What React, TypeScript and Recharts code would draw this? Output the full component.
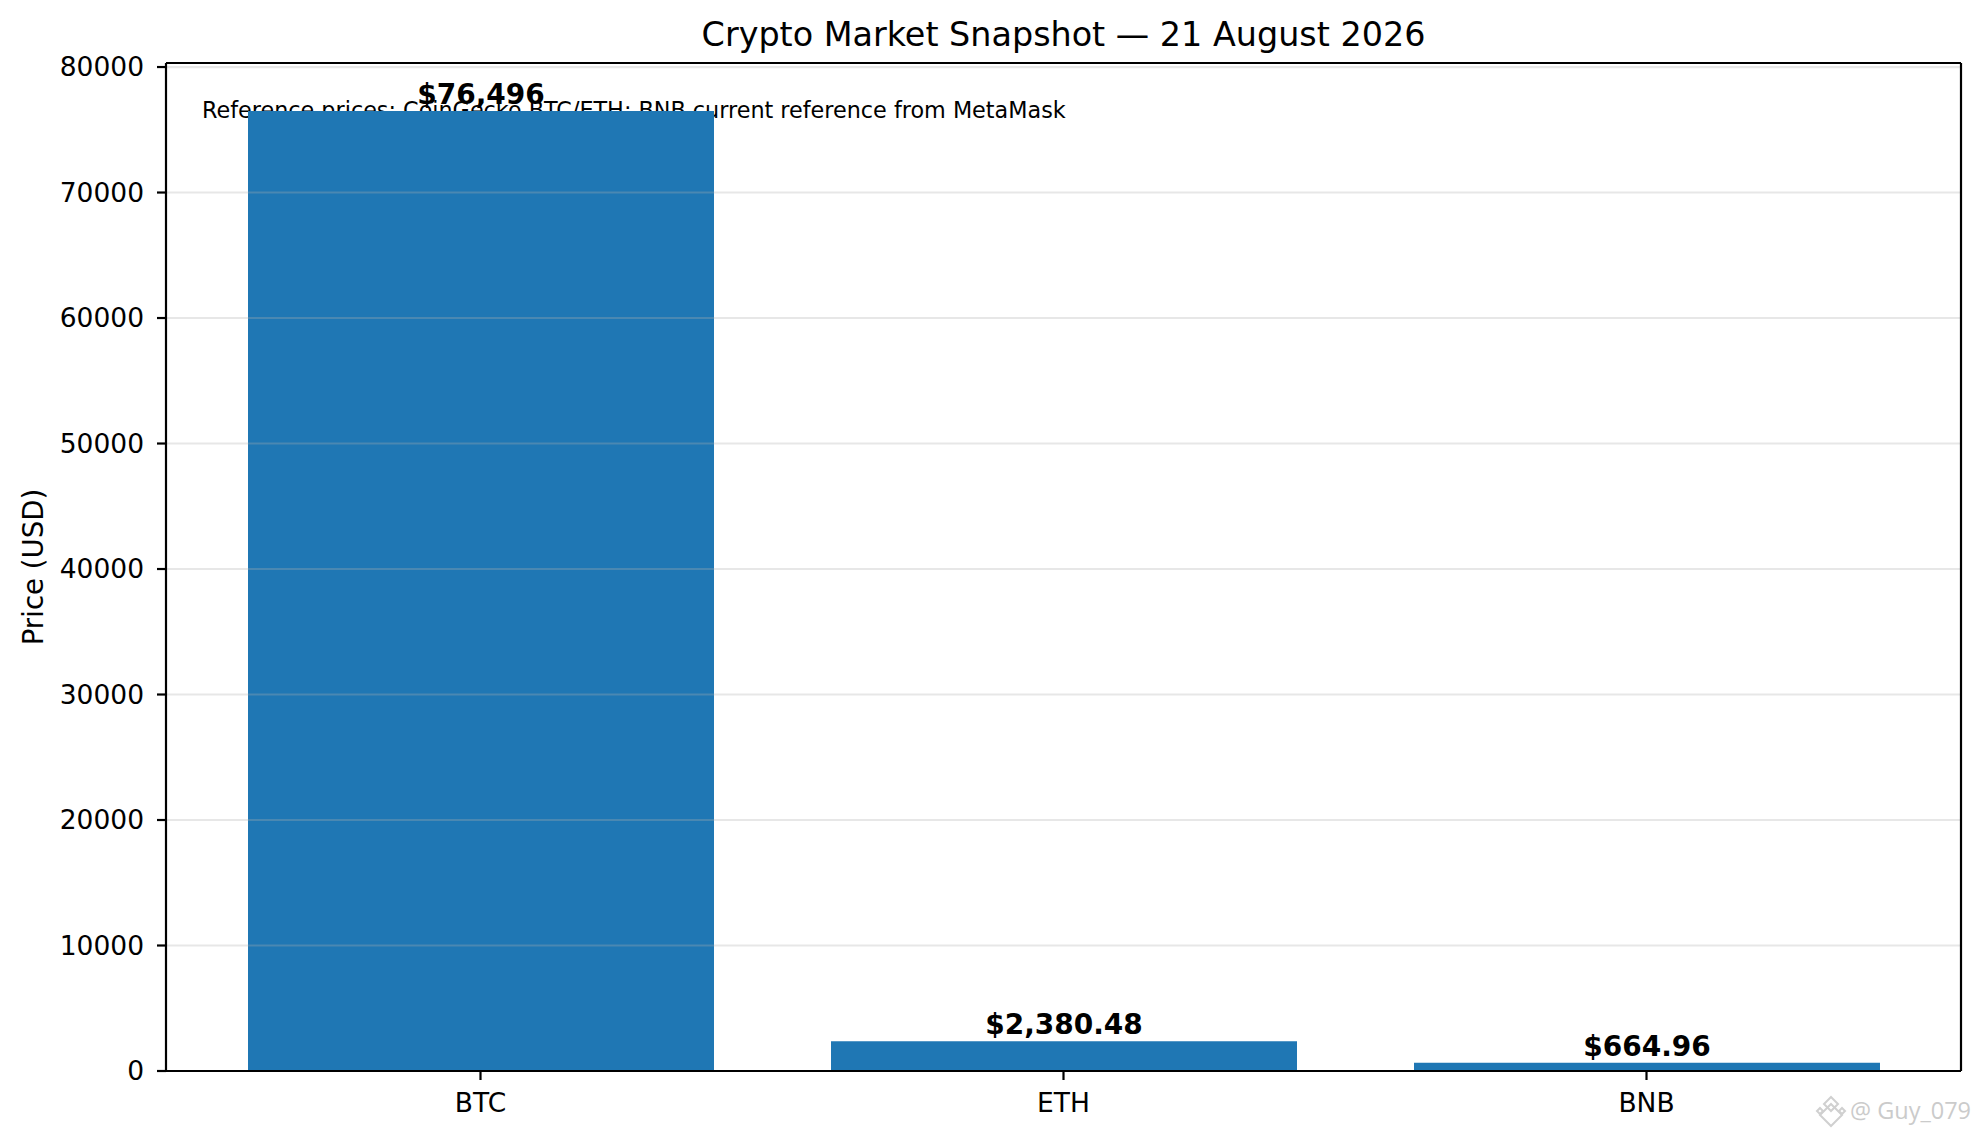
import React from 'react';
import {
  ComposedChart,
  Bar,
  XAxis,
  YAxis,
  ReferenceLine,
  LabelList,
  Customized,
} from 'recharts';

const categories = ['BTC', 'ETH', 'BNB'];
const prices = [76496, 2380.48, 664.96];
const priceLabels = ['$76,496', '$2,380.48', '$664.96'];
const yTicks = [0, 10000, 20000, 30000, 40000, 50000, 60000, 70000, 80000];
const yMax = 80321;

const data = categories.map((c, i) => ({ name: c, price: prices[i], label: priceLabels[i] }));

const FONT = '"DejaVu Sans", Verdana, sans-serif';

const Overlay = () => (
  <g>
    <text x={1063.5} y={46} textAnchor="middle" fontSize={33.4} fill="#000" fontFamily={FONT}>
      Crypto Market Snapshot — 21 August 2026
    </text>
    <text x={202} y={118} textAnchor="start" fontSize={22.3} fill="#000" fontFamily={FONT}>
      Reference prices: CoinGecko BTC/ETH; BNB current reference from MetaMask
    </text>
    <g fill="none" stroke="#d0d0d0" strokeWidth={2}>
      <path d="M1831 1097 L1838 1104 L1831 1111 L1824 1104 Z" />
      <path d="M1831 1104 L1842 1115 L1831 1126 L1820 1115 Z" />
      <path d="M1820 1108 L1823 1111 L1820 1114 L1817 1111 Z" />
      <path d="M1842 1108 L1845 1111 L1842 1114 L1839 1111 Z" />
    </g>
    <text x={1850} y={1119} fontSize={23.5} fill="#cbcbcb" fontFamily='"Open Sans", "Noto Sans", sans-serif'>
      @ Guy_079
    </text>
  </g>
);

const YLabel = (props: any) => {
  const vb = props.viewBox || {};
  const cy = (vb.y ?? 63) + (vb.height ?? 1008) / 2;
  return (
    <text
      x={43}
      y={cy}
      transform={`rotate(-90, 43, ${cy})`}
      textAnchor="middle"
      fontSize={27.6}
      fill="#000"
      fontFamily={FONT}
    >
      Price (USD)
    </text>
  );
};

export default function App() {
  return (
    <div style={{ position: 'absolute', left: 0, top: 0, width: 1980, height: 1138, background: '#fff' }}>
      <ComposedChart
        width={1980}
        height={1138}
        data={data}
        margin={{ top: 63, right: 19, bottom: 7, left: 46 }}
        style={{ fontFamily: FONT }}
      >
        <XAxis
          dataKey="name"
          type="category"
          padding={{ left: 23, right: 23 }}
          tickSize={9}
          tickMargin={13}
          height={60}
          axisLine={{ stroke: '#000', strokeWidth: 2.2 }}
          tickLine={{ stroke: '#000', strokeWidth: 2.2 }}
          tick={{ fontSize: 26.5, fill: '#000', fontFamily: FONT }}
        />
        <XAxis
          xAxisId="frame"
          type="number"
          domain={[0, 2]}
          allowDataOverflow
          hide
        />
        <YAxis
          type="number"
          domain={[0, yMax]}
          ticks={yTicks}
          interval={0}
          width={120}
          tickSize={9}
          tickMargin={13}
          allowDataOverflow
          axisLine={{ stroke: '#000', strokeWidth: 2.2 }}
          tickLine={{ stroke: '#000', strokeWidth: 2.2 }}
          tick={{ fontSize: 26.5, fill: '#000', fontFamily: FONT }}
          label={<YLabel />}
        />
        <Bar dataKey="price" fill="#1f77b4" barSize={466} isAnimationActive={false}>
          <LabelList
            dataKey="label"
            position="top"
            offset={7}
            fill="#000"
            fontSize={28}
            fontWeight="bold"
            fontFamily={FONT}
          />
        </Bar>
        {yTicks.map((t) => (
          <ReferenceLine
            key={t}
            y={t}
            stroke="#b0b0b0"
            strokeOpacity={0.3}
            strokeWidth={2.2}
          />
        ))}
        <ReferenceLine y={yMax} stroke="#000" strokeWidth={2.2} />
        <ReferenceLine xAxisId="frame" x={2} stroke="#000" strokeWidth={2.2} />
        <Customized component={Overlay} />
      </ComposedChart>
    </div>
  );
}
